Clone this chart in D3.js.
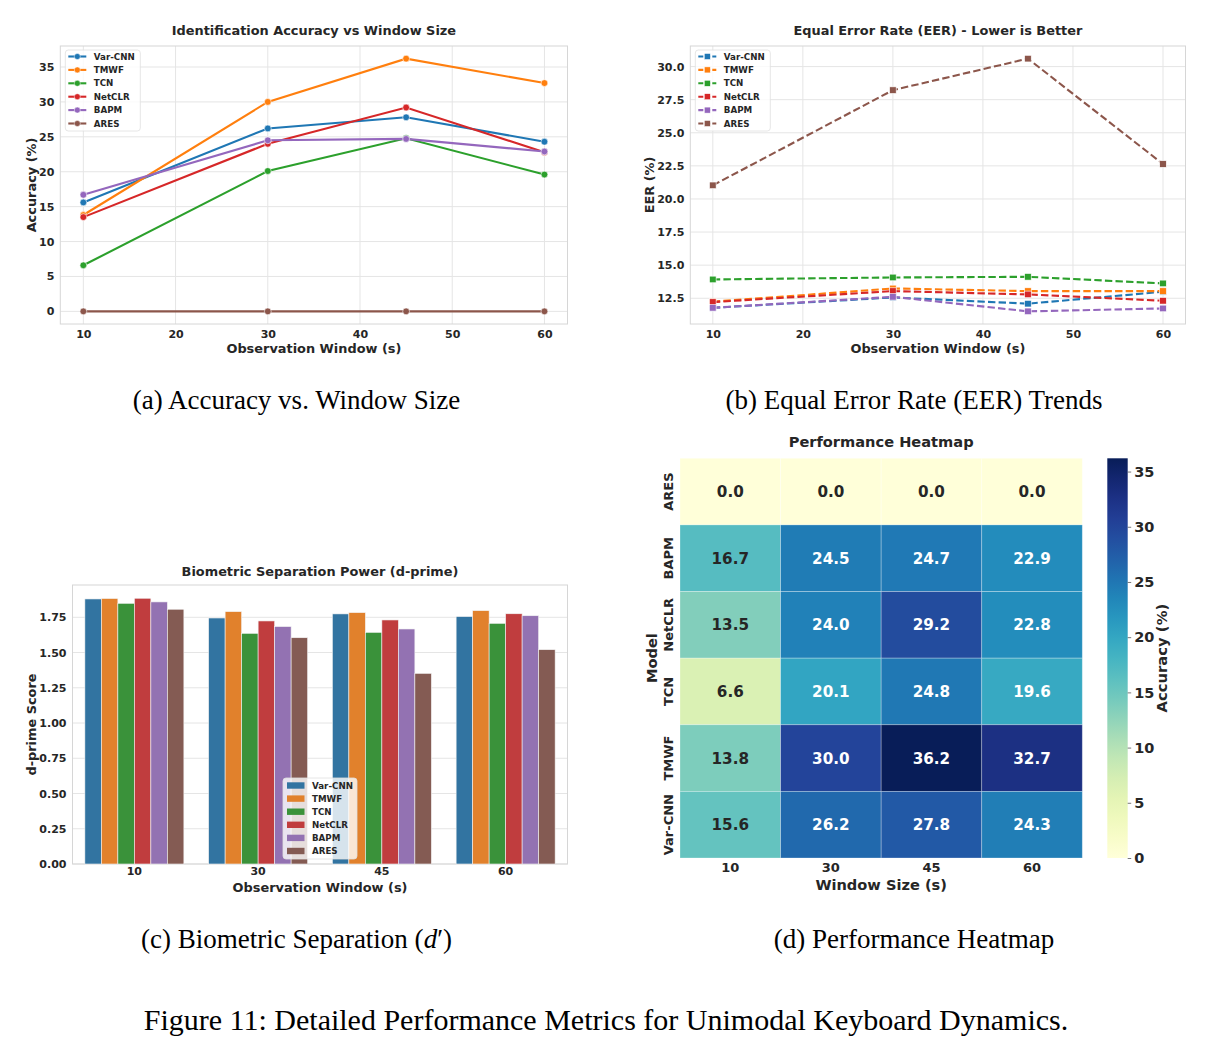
<!DOCTYPE html>
<html>
<head>
<meta charset="utf-8">
<script src="https://cdn.jsdelivr.net/npm/d3@7"></script>
<style>
  html, body { margin: 0; padding: 0; background: #ffffff; }
  svg { display: block; }
  text { font-family: "DejaVu Sans", sans-serif; fill: #262626; }
  .cap { font-family: "Liberation Serif", "Times New Roman", serif; fill: #000; }
</style>
</head>
<body>
<svg id="fig" width="1206" height="1053"></svg>
<script>
// ---------------- DATA ----------------
const windows = [10, 30, 45, 60];
const models = ["Var-CNN", "TMWF", "TCN", "NetCLR", "BAPM", "ARES"];
const heatRows = ["ARES", "BAPM", "NetCLR", "TCN", "TMWF", "Var-CNN"];

const accVarCNN = [15.6, 26.2, 27.8, 24.3];
const accTMWF   = [13.8, 30.0, 36.2, 32.7];
const accTCN    = [6.6, 20.1, 24.8, 19.6];
const accNetCLR = [13.5, 24.0, 29.2, 22.8];
const accBAPM   = [16.7, 24.5, 24.7, 22.9];
const accARES   = [0.0, 0.0, 0.0, 0.0];

const eerVarCNN = [11.78, 12.56, 12.09, 12.99];
const eerTMWF   = [12.24, 13.24, 13.04, 13.04];
const eerTCN    = [13.92, 14.07, 14.12, 13.62];
const eerNetCLR = [12.21, 13.04, 12.79, 12.31];
const eerBAPM   = [11.78, 12.61, 11.51, 11.73];
const eerARES   = [21.03, 28.22, 30.60, 22.64];

const dpVarCNN = [1.880, 1.745, 1.774, 1.755];
const dpTMWF   = [1.883, 1.790, 1.783, 1.797];
const dpTCN    = [1.849, 1.636, 1.643, 1.707];
const dpNetCLR = [1.885, 1.724, 1.731, 1.775];
const dpBAPM   = [1.859, 1.684, 1.667, 1.761];
const dpARES   = [1.807, 1.605, 1.352, 1.520];

const accTicksX = [10, 20, 30, 40, 50, 60];
const accTicksY = [0, 5, 10, 15, 20, 25, 30, 35];
const eerTicksY = [12.5, 15.0, 17.5, 20.0, 22.5, 25.0, 27.5, 30.0];
const dpTicksY = [0, 0.25, 0.5, 0.75, 1.0, 1.25, 1.5, 1.75];
const cbTicks = [0, 5, 10, 15, 20, 25, 30, 35];

const accuracy = [accVarCNN, accTMWF, accTCN, accNetCLR, accBAPM, accARES];
const eer = [eerVarCNN, eerTMWF, eerTCN, eerNetCLR, eerBAPM, eerARES];
const dprime = [dpVarCNN, dpTMWF, dpTCN, dpNetCLR, dpBAPM, dpARES];

const lineColors = ["#1f77b4", "#ff7f0e", "#2ca02c", "#d62728", "#9467bd", "#8c564b"];
const barColors = ["#3274a1", "#e1812c", "#3a923a", "#c03d3e", "#9372b2", "#845b53"];

// ---------------- SETUP ----------------
const svg = d3.select("#fig");
const GRID = "#e5e5e5", SPINE = "#d6d6d6";
const TICKFS = 11, LABFS = 12.9, TITFS = 12.9, LEGFS = 8.7;

function frame(g, L, R, T, B) {
  g.append("rect").attr("x", L).attr("y", T).attr("width", R - L).attr("height", B - T)
    .attr("fill", "none").attr("stroke", SPINE).attr("stroke-width", 1);
}
function title(g, x, y, t, fs) {
  return g.append("text").attr("x", x).attr("y", y).attr("text-anchor", "middle")
    .attr("font-size", fs || TITFS).attr("font-weight", "bold").text(t);
}
function xlabel(g, x, y, t, fs) {
  return g.append("text").attr("x", x).attr("y", y).attr("text-anchor", "middle")
    .attr("font-size", fs || LABFS).attr("font-weight", "bold").text(t);
}
function ylabel(g, x, y, t, fs) {
  return g.append("text").attr("transform", `translate(${x},${y}) rotate(-90)`).attr("text-anchor", "middle")
    .attr("font-size", fs || LABFS).attr("font-weight", "bold").text(t);
}
function styleAxis(ax, fs) {
  ax.select(".domain").remove();
  ax.selectAll(".tick line").remove();
  ax.selectAll(".tick text").attr("font-size", fs || TICKFS).attr("font-weight", "bold")
    .attr("fill", "#262626").attr("font-family", "DejaVu Sans, sans-serif");
}

// ---------- line panel factory ----------
function linePanel(opts) {
  const {L, R, T, B, yDomain, yTicks, yFmt, data, dashed, marker, ttl, ylab, ylabX} = opts;
  const g = svg.append("g");
  const x = d3.scaleLinear().domain([7.5, 62.5]).range([L, R]);
  const y = d3.scaleLinear().domain(yDomain).range([B, T]);
  g.append("g").selectAll("line").data(accTicksX).join("line")
    .attr("x1", d => x(d)).attr("x2", d => x(d)).attr("y1", T).attr("y2", B)
    .attr("stroke", GRID).attr("stroke-width", 1);
  g.append("g").selectAll("line").data(yTicks).join("line")
    .attr("x1", L).attr("x2", R).attr("y1", d => y(d)).attr("y2", d => y(d))
    .attr("stroke", GRID).attr("stroke-width", 1);
  frame(g, L, R, T, B);
  const ax = g.append("g").attr("transform", `translate(0,${B})`)
    .call(d3.axisBottom(x).tickValues(accTicksX).tickSize(0).tickPadding(6).tickFormat(d3.format("d")));
  styleAxis(ax);
  const ay = g.append("g").attr("transform", `translate(${L},0)`)
    .call(d3.axisLeft(y).tickValues(yTicks).tickSize(0).tickPadding(6).tickFormat(yFmt));
  styleAxis(ay);
  const line = d3.line().x((d, i) => x(windows[i])).y(d => y(d));
  data.forEach((vals, si) => {
    const s = g.append("g");
    s.append("path").datum(vals).attr("d", line).attr("fill", "none")
      .attr("stroke", lineColors[si]).attr("stroke-width", 2.1)
      .attr("stroke-dasharray", dashed ? "7.4,3.2" : null);
    if (marker === "circle") {
      s.selectAll("circle").data(vals).join("circle")
        .attr("cx", (d, i) => x(windows[i])).attr("cy", d => y(d)).attr("r", 3.4)
        .attr("fill", lineColors[si]).attr("stroke", "#fff").attr("stroke-width", 0.6);
    } else {
      s.selectAll("rect").data(vals).join("rect")
        .attr("x", (d, i) => x(windows[i]) - 3.3).attr("y", d => y(d) - 3.3)
        .attr("width", 6.6).attr("height", 6.6)
        .attr("fill", lineColors[si]).attr("stroke", "#fff").attr("stroke-width", 0.6);
    }
  });
  title(g, (L + R) / 2, 35, ttl);
  xlabel(g, (L + R) / 2, 353, "Observation Window (s)");
  ylabel(g, ylabX, (T + B) / 2, ylab);
  const lg = g.append("g");
  const lx = L + 5, ly = 50;
  lg.append("rect").attr("x", lx).attr("y", ly).attr("width", 75).attr("height", 81)
    .attr("rx", 3).attr("fill", "rgba(255,255,255,0.8)").attr("stroke", "#e0e0e0").attr("stroke-width", 0.8);
  models.forEach((m, i) => {
    const yy = ly + 6.5 + i * 13.4;
    lg.append("line").attr("x1", lx + 3).attr("x2", lx + 21).attr("y1", yy).attr("y2", yy)
      .attr("stroke", lineColors[i]).attr("stroke-width", 2.1)
      .attr("stroke-dasharray", dashed ? "5,2" : null);
    if (marker === "circle") {
      lg.append("circle").attr("cx", lx + 12).attr("cy", yy).attr("r", 3)
        .attr("fill", lineColors[i]).attr("stroke", "#fff").attr("stroke-width", 0.5);
    } else {
      lg.append("rect").attr("x", lx + 12 - 3).attr("y", yy - 3).attr("width", 6).attr("height", 6)
        .attr("fill", lineColors[i]).attr("stroke", "#fff").attr("stroke-width", 0.5);
    }
    lg.append("text").attr("x", lx + 28.5).attr("y", yy).attr("dy", "0.36em")
      .attr("font-size", LEGFS).attr("font-weight", "bold").text(m);
  });
}

// (a)
linePanel({L: 60.3, R: 567.5, T: 46, B: 324, yDomain: [-1.81, 38.01], yTicks: accTicksY,
  yFmt: d3.format("d"), data: accuracy, dashed: false, marker: "circle",
  ttl: "Identification Accuracy vs Window Size", ylab: "Accuracy (%)", ylabX: 36});
// (b)
linePanel({L: 690.3, R: 1185.5, T: 46, B: 324, yDomain: [10.555, 31.555], yTicks: eerTicksY,
  yFmt: d3.format(".1f"), data: eer, dashed: true, marker: "square",
  ttl: "Equal Error Rate (EER) - Lower is Better", ylab: "EER (%)", ylabX: 654});

// ---------- (c) bar panel ----------
(function () {
  const L = 72.5, R = 567.5, T = 585, B = 864;
  const g = svg.append("g");
  const x0 = d3.scaleBand().domain(windows).range([L, R]).paddingInner(0.2).paddingOuter(0.1);
  const x1 = d3.scaleBand().domain(models).range([0, x0.bandwidth()]);
  const y = d3.scaleLinear().domain([0, 1.979]).range([B, T]);
  g.append("g").selectAll("line").data(dpTicksY).join("line")
    .attr("x1", L).attr("x2", R).attr("y1", d => y(d)).attr("y2", d => y(d))
    .attr("stroke", GRID).attr("stroke-width", 1);
  frame(g, L, R, T, B);
  models.forEach((m, si) => {
    g.append("g").selectAll("rect").data(dprime[si]).join("rect")
      .attr("x", (d, i) => x0(windows[i]) + x1(m)).attr("width", x1.bandwidth())
      .attr("y", d => y(d)).attr("height", d => B - y(d))
      .attr("fill", barColors[si]).attr("stroke", "#f4f4f4").attr("stroke-width", 0.6);
  });
  const ax = g.append("g").attr("transform", `translate(0,${B})`)
    .call(d3.axisBottom(x0).tickSize(0).tickPadding(3));
  styleAxis(ax);
  const ay = g.append("g").attr("transform", `translate(${L},0)`)
    .call(d3.axisLeft(y).tickValues(dpTicksY).tickSize(0).tickPadding(6).tickFormat(d3.format(".2f")));
  styleAxis(ay);
  title(g, (L + R) / 2, 576, "Biometric Separation Power (d-prime)");
  xlabel(g, (L + R) / 2, 892, "Observation Window (s)");
  ylabel(g, 36, (T + B) / 2, "d-prime Score");
  const lx = 283, ly = 778;
  g.append("rect").attr("x", lx).attr("y", ly).attr("width", 74).attr("height", 81)
    .attr("rx", 3).attr("fill", "rgba(255,255,255,0.8)").attr("stroke", "#e0e0e0").attr("stroke-width", 0.8);
  models.forEach((m, i) => {
    const yy = ly + 7.5 + i * 13.1;
    g.append("rect").attr("x", lx + 4).attr("y", yy - 3.2).attr("width", 17.5).attr("height", 6.4)
      .attr("fill", barColors[i]);
    g.append("text").attr("x", lx + 29).attr("y", yy).attr("dy", "0.36em")
      .attr("font-size", LEGFS).attr("font-weight", "bold").text(m);
  });
})();

// ---------- (d) heatmap ----------
(function () {
  const L = 680, R = 1082.3, T = 458.3, B = 858;
  const g = svg.append("g");
  const x = d3.scaleBand().domain(windows).range([L, R]);
  const y = d3.scaleBand().domain(heatRows).range([T, B]);
  const vmax = 36.2;
  const color = d3.scaleSequential(d3.interpolateYlGnBu).domain([0, vmax]);
  const cells = [];
  heatRows.forEach(m => {
    const vals = accuracy[models.indexOf(m)];
    vals.forEach((v, i) => cells.push({m, w: windows[i], v}));
  });
  g.selectAll("rect.cell").data(cells).join("rect").attr("class", "cell")
    .attr("x", d => x(d.w)).attr("y", d => y(d.m))
    .attr("width", x.bandwidth()).attr("height", y.bandwidth())
    .attr("fill", d => color(d.v)).attr("stroke", "rgba(255,255,255,0.35)").attr("stroke-width", 0.8);
  function lum(c) {
    const r = d3.rgb(c);
    const f = u => { u /= 255; return u <= 0.03928 ? u / 12.92 : Math.pow((u + 0.055) / 1.055, 2.4); };
    return 0.2126 * f(r.r) + 0.7152 * f(r.g) + 0.0722 * f(r.b);
  }
  g.selectAll("text.ann").data(cells).join("text").attr("class", "ann")
    .attr("x", d => x(d.w) + x.bandwidth() / 2).attr("y", d => y(d.m) + y.bandwidth() / 2)
    .attr("dy", "0.36em").attr("text-anchor", "middle")
    .attr("font-size", 15.2).attr("font-weight", "bold")
    .style("fill", d => lum(color(d.v)) > 0.408 ? "#262626" : "#ffffff")
    .text(d => d3.format(".1f")(d.v));
  const ax = g.append("g").attr("transform", `translate(0,${B})`)
    .call(d3.axisBottom(x).tickSize(0).tickPadding(5));
  styleAxis(ax, 13);
  g.selectAll("text.rl").data(heatRows).join("text").attr("class", "rl")
    .attr("transform", d => `translate(${668},${y(d) + y.bandwidth() / 2}) rotate(-90)`)
    .attr("text-anchor", "middle").attr("dy", "0.36em")
    .attr("font-size", 13).attr("font-weight", "bold").text(d => d);
  title(g, (L + R) / 2, 447, "Performance Heatmap", 14.6);
  xlabel(g, (L + R) / 2, 890, "Window Size (s)", 14.6);
  ylabel(g, 657, (T + B) / 2, "Model", 14.6);
  // colorbar
  const cbL = 1107.3, cbR = 1127.7;
  const cy = d3.scaleLinear().domain([0, vmax]).range([B, T]);
  const defs = svg.append("defs");
  const grad = defs.append("linearGradient").attr("id", "cbgrad")
    .attr("x1", 0).attr("y1", 1).attr("x2", 0).attr("y2", 0);
  d3.range(0, 1.0001, 0.05).forEach(t => {
    grad.append("stop").attr("offset", t).attr("stop-color", d3.interpolateYlGnBu(t));
  });
  g.append("rect").attr("x", cbL).attr("y", T).attr("width", cbR - cbL).attr("height", B - T)
    .attr("fill", "url(#cbgrad)");
  const acb = g.append("g").attr("transform", `translate(${cbR},0)`)
    .call(d3.axisRight(cy).tickValues(cbTicks).tickSize(3.5).tickPadding(3).tickFormat(d3.format("d")));
  acb.select(".domain").remove();
  acb.selectAll(".tick line").attr("stroke", "#555").attr("stroke-width", 0.8);
  acb.selectAll(".tick text").attr("font-size", 14.5).attr("font-weight", "bold")
    .attr("fill", "#262626").attr("font-family", "DejaVu Sans, sans-serif");
  ylabel(g, 1167, (T + B) / 2, "Accuracy (%)", 14.8);
})();

// ---------- captions ----------
function cap(x, y, t, fs) {
  return svg.append("text").attr("class", "cap").attr("x", x).attr("y", y)
    .attr("text-anchor", "middle").attr("font-size", fs).text(t);
}
cap(296.5, 409, "(a) Accuracy vs. Window Size", 27);
cap(914, 409, "(b) Equal Error Rate (EER) Trends", 27);
const cc = cap(296.5, 948, "(c) Biometric Separation (", 27);
cc.append("tspan").attr("font-style", "italic").text("d");
cc.append("tspan").text("\u2032)");
cap(914, 948, "(d) Performance Heatmap", 27);
cap(606, 1030, "Figure 11: Detailed Performance Metrics for Unimodal Keyboard Dynamics.", 30);
</script>
</body>
</html>
